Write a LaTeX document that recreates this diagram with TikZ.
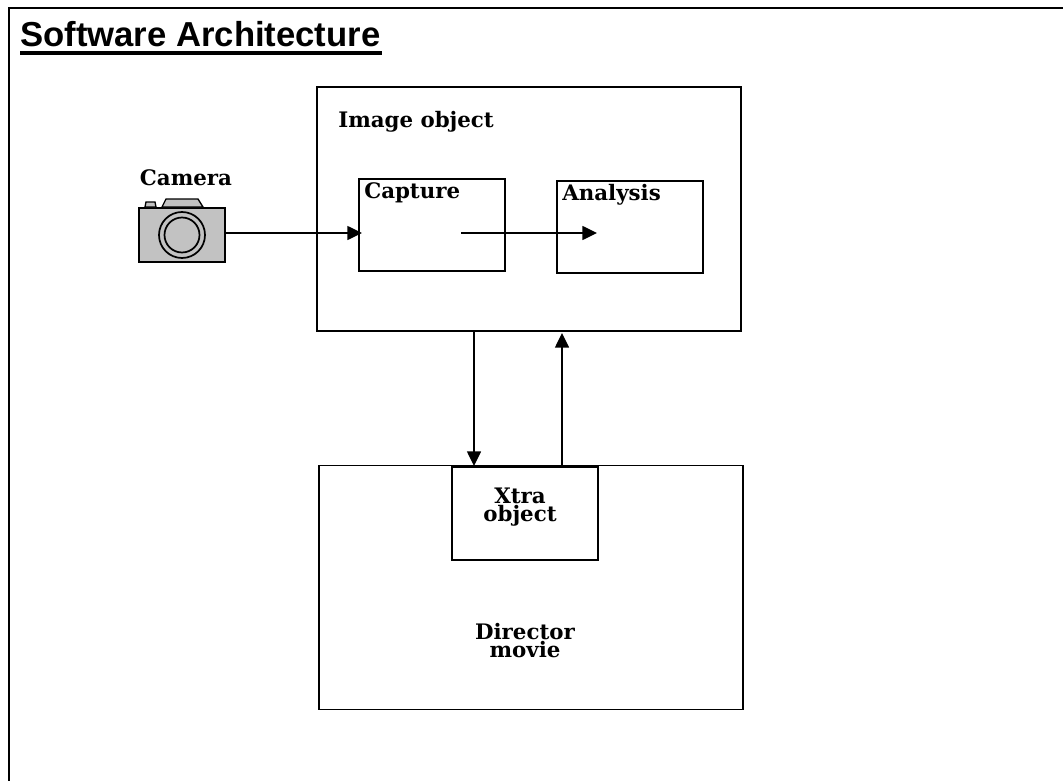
\documentclass[tikz,border=0pt]{standalone}
\usepackage{fontspec}
\setmainfont{DejaVu Serif}
\newfontfamily\titlefont{Liberation Sans}
\usetikzlibrary{positioning,arrows.meta}
\begin{document}
\begin{tikzpicture}[x=0.75pt, y=-0.75pt, >={Triangle[length=11pt,width=10.5pt]}, every node/.style={font=\bfseries\fontsize{16}{13.5}\selectfont}]
\tikzstyle{block}=[rectangle, draw, line width=1.1pt, inner sep=0pt, outer sep=0pt]
\tikzstyle{bigblock}=[block, minimum width=318pt, minimum height=183pt]
\tikzstyle{smallblock}=[block, minimum width=109.5pt, minimum height=69pt]
\tikzstyle{txt}=[align=center, inner sep=0pt]
\tikzstyle{wire}=[line width=1.1pt]
\useasboundingbox (0,0) rectangle (1063,781);
\fill[white] (0,0) rectangle (1063,781);
\draw[line width=1.5pt] (1063,8) -- (9,8) -- (9,781);
\node[anchor=west, inner sep=0pt, font=\titlefont\bfseries\fontsize{26}{28}\selectfont] (title) at (20,34) {Software Architecture};
\draw[line width=2.5pt] (20,53) -- (382,53);
\node[bigblock] (image) at (529,209) {};
\node[smallblock] (capture) at (432,225) {};
\node[smallblock, right=39pt of capture, yshift=-1.5pt] (analysis) {};
\node[bigblock] (director) at (531,587.5) {};
\node[smallblock, minimum height=69.75pt] (xtra) at (525,513.5) {};
\node[txt, anchor=west] (imagetxt) at (338,121.5) {Image object};
\node[txt, anchor=west] (capturetxt) at (364,193) {Capture};
\node[txt, anchor=west] (analysistxt) at (562,195) {Analysis};
\node[txt] (xtratxt) at (520,507) {Xtra\\object};
\node[txt] (directortxt) at (525,641) {Director\\movie};
\node[txt] (cameratxt) at (186,178) {Camera};
\node[block, fill=black!24, minimum width=64.5pt, minimum height=40.5pt] (camera) at (182,235) {};
\filldraw[fill=black!24, line width=1pt] (162,207) -- (166,199) -- (198,199) -- (203,207) -- cycle;
\filldraw[fill=black!24, line width=1pt] (145,207) -- (146,202) -- (155,202) -- (156,207) -- cycle;
\draw[line width=1.3pt] (camera.center) circle[radius=23];
\draw[line width=1.3pt] (camera.center) circle[radius=17.5];
\coordinate (capturein) at (362,233);
\coordinate (captureout) at (461,233);
\coordinate (analysisin) at (597,233);
\coordinate (xtrain) at (474,466);
\coordinate (xtraout) at (562,466);
\coordinate (imagein) at (562,333);
\draw[wire, ->] (camera.east |- capturein) -- (capturein);
\draw[wire, ->] (captureout) -- (analysisin);
\draw[wire, ->] (image.south -| xtrain) -- (xtrain);
\draw[wire, ->] (xtraout) -- (imagein);
\end{tikzpicture}
\end{document}
